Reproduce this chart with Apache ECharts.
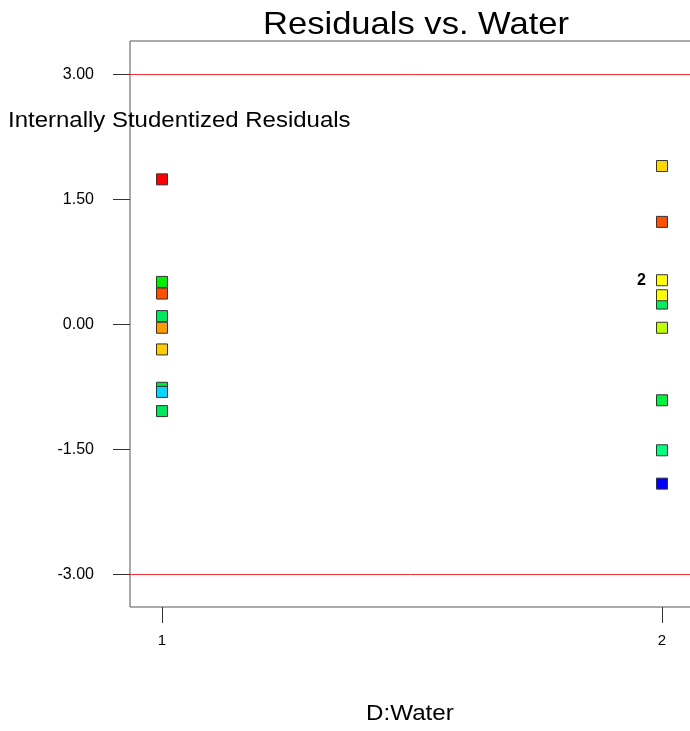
<!DOCTYPE html>
<html>
<head>
<meta charset="utf-8">
<script src="https://cdn.jsdelivr.net/npm/echarts@6/dist/echarts.min.js"></script>
<style>html,body{margin:0;padding:0;background:#fff}#c{width:690px;height:731px}</style>
</head>
<body>
<div id="c"></div>
<script>
const xValues = [1, 1, 1, 1, 1, 1, 1, 1, 1, 2, 2, 2, 2, 2, 2, 2, 2, 2];
const residuals = [1.74, 0.51, 0.37, 0.10, -0.04, -0.30, -0.76, -0.81, -1.04,
                   1.90, 1.23, 0.53, 0.25, 0.35, -0.04, -0.91, -1.51, -1.91];
const pointLabels = ['', '', '', '', '', '', '', '', '', '', '', '2', '', '', '', '', '', ''];
const pointColors = ['#ff0000', '#00f000', '#ff4f00', '#00e860', '#ff9a00', '#ffcc00', '#00e040', '#00d8ff', '#00e860',
                     '#ffd800', '#ff4f00', '#ffff00', '#00f060', '#ffff00', '#c0ff00', '#00f040', '#00ff80', '#0000ff'];
const yTicks = [-3, -1.5, 0, 1.5, 3];
const xTicks = [1, 2];
const limitLines = [3, -3];

const font = 'Liberation Sans, Arial, sans-serif';
const chart = echarts.init(document.getElementById('c'), null, {renderer: 'canvas'});
const data = xValues.map((x, i) => ({
  value: [x, residuals[i]],
  itemStyle: {color: pointColors[i]},
  label: pointLabels[i] ? {show: true, formatter: pointLabels[i]} : {show: false}
}));
chart.setOption({
  animation: false,
  grid: {left: 130, top: 41, width: 564, height: 566, outerBoundsMode: 'none', containLabel: false,
         show: true, borderColor: '#555', borderWidth: 1, backgroundColor: 'transparent'},
  xAxis: {
    type: 'value', min: 0.936, max: 2.064,
    axisLine: {show: false, onZero: false}, splitLine: {show: false},
    axisTick: {show: true, length: 16, customValues: xTicks, lineStyle: {color: '#333'}},
    axisLabel: {customValues: xTicks, margin: 26, fontFamily: font, fontSize: 15, color: '#000', formatter: v => String(v)}
  },
  yAxis: {
    type: 'value', min: -3.39, max: 3.4,
    axisLine: {show: false, onZero: false}, splitLine: {show: false},
    axisTick: {show: true, length: 17, customValues: yTicks, lineStyle: {color: '#333'}},
    axisLabel: {customValues: yTicks, margin: 36, fontFamily: font, fontSize: 16, color: '#000', formatter: v => v.toFixed(2)}
  },
  graphic: [
    {type: 'text', x: 416, y: 25, scaleX: 1.08,
     style: {text: 'Residuals vs. Water', font: '32px ' + font, fill: '#000', textAlign: 'center', textVerticalAlign: 'middle'}},
    {type: 'text', x: 8, y: 121, scaleX: 1.09,
     style: {text: 'Internally Studentized Residuals', font: '22px ' + font, fill: '#000', textAlign: 'left', textVerticalAlign: 'middle'}},
    {type: 'text', x: 366, y: 714, scaleX: 1.1,
     style: {text: 'D:Water', font: '22px ' + font, fill: '#000', textAlign: 'left', textVerticalAlign: 'middle'}}
  ],
  series: [{
    type: 'scatter',
    symbol: 'rect',
    symbolSize: 11,
    itemStyle: {borderColor: '#333', borderWidth: 1, opacity: 1},
    label: {position: 'left', distance: 10, fontFamily: font, fontSize: 16, fontWeight: 'bold', color: '#000'},
    data: data,
    markLine: {
      silent: true, symbol: 'none', label: {show: false},
      lineStyle: {color: '#ee3333', width: 1, type: 'solid'},
      data: limitLines.map(v => ({yAxis: v, lineStyle: {color: '#ee3333', width: 1, type: 'solid'}}))
    }
  }]
});
</script>
</body>
</html>
